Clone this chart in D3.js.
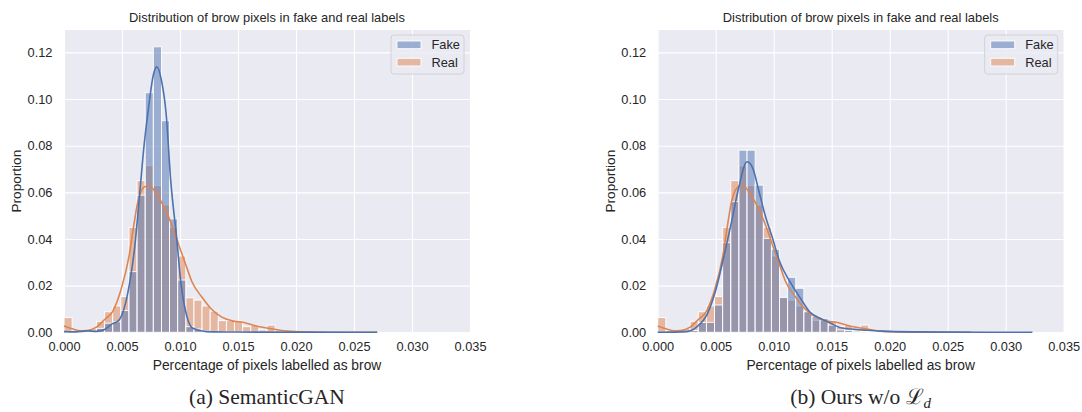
<!DOCTYPE html>
<html>
<head>
<meta charset="utf-8">
<script src="https://cdn.jsdelivr.net/npm/d3@7"></script>
<style>
  body { margin: 0; background: #fff; }
  text { fill: #262626; }
</style>
</head>
<body>
<div class="chart"></div>
<script>
// histogram bins start at 0, all of the same width
var binWidth = 0.0007;

// (a) SemanticGAN - proportion per bin
var fakeA = [0, 0, 0.0002, 0.0005, 0.0017, 0.0039, 0.0045, 0.0093, 0.026, 0.0588, 0.1027, 0.1224, 0.0907,
  0.0486, 0.0224, 0.0024, 0.0014, 0.0006, 0.0004, 0.0003, 0.0002, 0.0002, 0.0001, 0.0001, 0.0001, 0.0001,
  0.0001, 0.0001, 0.0001, 0.0001, 0.0001, 0.0001, 0.0001, 0.0001, 0.0001, 0.0001, 0.0001, 0.0001, 0.0001];
var realA = [0.0063, 0.0007, 0, 0.0015, 0.0047, 0.0088, 0.0113, 0.0153, 0.045, 0.065, 0.0714, 0.063, 0.0546,
  0.045, 0.0327, 0.0148, 0.0138, 0.0113, 0.0091, 0.005, 0.005, 0.0048, 0.0024, 0.003, 0.001, 0.0031, 0.001,
  0.0003, 0.0003, 0.0002, 0.0001, 0.0002, 0.0001, 0, 0.0001, 0, 0, 0, 0];

// (b) Ours w/o L_d - proportion per bin
var fakeB = [0, 0, 0, 0.0003, 0.0008, 0.0042, 0.0043, 0.0117, 0.0384, 0.056, 0.0781, 0.0781, 0.0631, 0.0403,
  0.0356, 0.015, 0.0236, 0.0189, 0.0088, 0.0067, 0.006, 0.0031, 0.001, 0.0008, 0.0005, 0.0004, 0.0003, 0.0002,
  0.0002, 0.0001, 0.0001, 0.0001, 0.0001, 0.0001, 0.0001, 0.0001, 0.0001, 0.0001, 0.0001, 0.0001, 0.0001,
  0.0001, 0.0001, 0.0001, 0.0001, 0.0001];
var realB = realA;

// kde curves: [x, density]
var kdeFakeA = [[0, 0.0003], [0.001, 0.0002], [0.002, 0.0006], [0.0028, 0.0004], [0.0035, 0.0012], [0.0041, 0.0035],
  [0.0047, 0.005], [0.0053, 0.0124], [0.0057, 0.0224], [0.0061, 0.0367], [0.0065, 0.058], [0.0069, 0.08],
  [0.0073, 0.0967], [0.0077, 0.1103], [0.008, 0.1138], [0.0084, 0.108], [0.0088, 0.0939], [0.0092, 0.065],
  [0.0097, 0.041], [0.0101, 0.0203], [0.0106, 0.0067], [0.0111, 0.0017], [0.0123, 0.0003], [0.015, 0.0001],
  [0.027, 0]];
var kdeReal = [[0, 0.0027], [0.0007, 0.0015], [0.0014, 0.0006], [0.002, 0.0008], [0.0028, 0.0022], [0.0035, 0.0055],
  [0.0042, 0.009], [0.0049, 0.018], [0.0056, 0.0324], [0.006, 0.0453], [0.0064, 0.0567], [0.007, 0.0625],
  [0.0074, 0.0627], [0.008, 0.059], [0.0087, 0.0531], [0.0094, 0.0446], [0.0101, 0.0345], [0.0105, 0.029],
  [0.011, 0.022], [0.0119, 0.015], [0.0127, 0.01], [0.0136, 0.0065], [0.0145, 0.0049], [0.0155, 0.0042],
  [0.0165, 0.0028], [0.0176, 0.0017], [0.0185, 0.001], [0.0193, 0.0005], [0.0205, 0.0002], [0.023, 0], [0.027, 0]];
var kdeFakeB = [[0, 0], [0.0025, 0.0003], [0.0034, 0.0024], [0.0043, 0.0081], [0.005, 0.018], [0.0057, 0.0324],
  [0.0064, 0.0481], [0.007, 0.0624], [0.0077, 0.0731], [0.0082, 0.0703], [0.0087, 0.061], [0.0093, 0.0495],
  [0.0099, 0.0403], [0.0105, 0.0305], [0.0114, 0.0217], [0.0123, 0.0146], [0.0131, 0.0088], [0.014, 0.006],
  [0.0149, 0.0039], [0.0157, 0.0021], [0.0166, 0.0014], [0.0177, 0.001], [0.0192, 0.0005], [0.022, 0.0002],
  [0.0323, 0]];

var xTicks = [0, 0.005, 0.01, 0.015, 0.02, 0.025, 0.03, 0.035];
var yTicks = [0, 0.02, 0.04, 0.06, 0.08, 0.1, 0.12];
var seriesNames = ["Fake", "Real"];
var titleText = "Distribution of brow pixels in fake and real labels";
var xLabel = "Percentage of pixels labelled as brow";
var yLabel = "Proportion";

var svgWidth = 1082;
var svgHeight = 412;
var blue = "#4c72b0";
var orange = "#dd8452";

var svg = d3.select(".chart")
  .append("svg")
  .attr("width", svgWidth)
  .attr("height", svgHeight)
  .style("font-family", "'Liberation Sans', Arial, sans-serif");

function drawPanel(left, fake, real, kdeFake, kdeRl, caption) {
  var width = 406;
  var top = 30;
  var height = 302.3;

  var g = svg.append("g")
    .attr("transform", `translate(${left}, ${top})`);

  var x = d3.scaleLinear().domain([0, 0.035]).range([0, width]);
  var y = d3.scaleLinear().domain([0, 0.1296]).range([height, 0]);

  g.append("rect")
    .attr("width", width)
    .attr("height", height)
    .attr("fill", "#eaeaf2");

  // grid + tick labels
  var xAxis = g.append("g")
    .attr("transform", `translate(0, ${height})`)
    .call(d3.axisBottom(x).tickValues(xTicks).tickFormat(d3.format(".3f"))
      .tickSizeInner(-height).tickSizeOuter(0).tickPadding(9.5));
  var yAxis = g.append("g")
    .call(d3.axisLeft(y).tickValues(yTicks).tickFormat(d3.format(".2f"))
      .tickSizeInner(-width).tickSizeOuter(0).tickPadding(11.5));

  [xAxis, yAxis].forEach(function(a) {
    a.select(".domain").remove();
    a.selectAll("line").attr("stroke", "#fff").attr("stroke-width", 1.1);
    a.selectAll("text").attr("font-size", 12.8).attr("fill", "#262626")
      .style("font-family", "'Liberation Sans', Arial, sans-serif");
  });

  // bars: real below, fake on top
  [[real, orange], [fake, blue]].forEach(function(s) {
    g.append("g").selectAll("rect")
      .data(s[0])
      .enter()
      .append("rect")
      .attr("x", (d, i) => x(i * binWidth))
      .attr("width", x(binWidth) - x(0))
      .attr("y", d => y(d))
      .attr("height", d => y(0) - y(d))
      .attr("fill", s[1])
      .attr("fill-opacity", 0.5)
      .attr("stroke", "#fff")
      .attr("stroke-width", 0.9);
  });

  var line = d3.line()
    .x(d => x(d[0]))
    .y(d => y(d[1]))
    .curve(d3.curveMonotoneX);

  g.append("path").datum(kdeRl)
    .attr("d", line).attr("fill", "none").attr("stroke", orange).attr("stroke-width", 1.6);
  g.append("path").datum(kdeFake)
    .attr("d", line).attr("fill", "none").attr("stroke", blue).attr("stroke-width", 1.6);

  // legend
  var lg = g.append("g").attr("transform", `translate(${width - 79}, 5)`);
  lg.append("rect")
    .attr("width", 73).attr("height", 39).attr("rx", 3)
    .attr("fill", "#eaeaf2").attr("fill-opacity", 0.8)
    .attr("stroke", "#cccccc").attr("stroke-width", 0.8);
  [blue, orange].forEach(function(c, i) {
    lg.append("rect")
      .attr("x", 6).attr("y", 6 + i * 17.3)
      .attr("width", 24).attr("height", 7.7)
      .attr("fill", c).attr("fill-opacity", 0.5)
      .attr("stroke", "#fff").attr("stroke-width", 0.9);
    lg.append("text")
      .attr("x", 40.5).attr("y", 10 + i * 17.3)
      .attr("dy", "0.35em")
      .attr("font-size", 12.8)
      .text(seriesNames[i]);
  });

  g.append("text")
    .attr("x", width / 2).attr("y", -8)
    .attr("text-anchor", "middle")
    .attr("font-size", 12.9)
    .text(titleText);

  g.append("text")
    .attr("x", width / 2).attr("y", height + 38)
    .attr("text-anchor", "middle")
    .attr("font-size", 13.8)
    .text(xLabel);

  g.append("text")
    .attr("transform", "rotate(-90)")
    .attr("x", -height / 2).attr("y", -43)
    .attr("text-anchor", "middle")
    .attr("font-size", 13.6)
    .text(yLabel);

  var cap = g.append("text")
    .attr("x", width / 2).attr("y", height + 72)
    .attr("text-anchor", "middle")
    .attr("font-size", 21.5)
    .style("font-family", "'Liberation Serif', 'Times New Roman', serif");
  cap.append("tspan").text(caption);
  return cap;
}

drawPanel(64, fakeA, realA, kdeFakeA, kdeReal, "(a) SemanticGAN");
var capB = drawPanel(657.7, fakeB, realB, kdeFakeB, kdeReal, "(b) Ours w/o ");
capB.append("tspan").text("ℒ").style("font-family", "'DejaVu Serif', serif");
capB.append("tspan").text("d").attr("font-style", "italic").attr("font-size", 15).attr("dy", 4);
</script>
</body>
</html>
